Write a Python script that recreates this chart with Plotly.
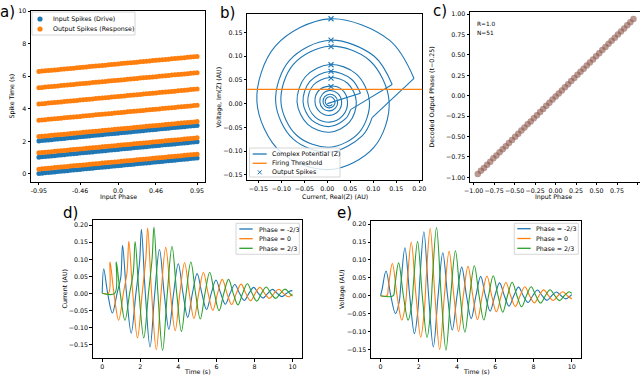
import plotly.graph_objects as go

# ---------------- panel a / c : phase sweep ----------------
PHASES = [-0.95, -0.912, -0.874, -0.836, -0.798, -0.76, -0.722, -0.684, -0.646, -0.608,
          -0.57, -0.532, -0.494, -0.456, -0.418, -0.38, -0.342, -0.304, -0.266, -0.228,
          -0.19, -0.152, -0.114, -0.076, -0.038, 0.0, 0.038, 0.076, 0.114, 0.152,
          0.19, 0.228, 0.266, 0.304, 0.342, 0.38, 0.418, 0.456, 0.494, 0.532,
          0.57, 0.608, 0.646, 0.684, 0.722, 0.76, 0.798, 0.836, 0.874, 0.912, 0.95]
# spike time inside each cycle (s)
INPUT_OFFSET = [0.025, 0.043, 0.062, 0.082, 0.100, 0.119, 0.139, 0.157, 0.176, 0.197,
                0.216, 0.233, 0.252, 0.274, 0.292, 0.309, 0.328, 0.349, 0.368, 0.385,
                0.404, 0.425, 0.444, 0.461, 0.480, 0.501, 0.520, 0.537, 0.556, 0.577,
                0.596, 0.613, 0.632, 0.653, 0.672, 0.689, 0.708, 0.729, 0.748, 0.765,
                0.784, 0.805, 0.824, 0.841, 0.860, 0.881, 0.900, 0.917, 0.936, 0.957, 0.975]
OUTPUT_OFFSET = [0.290, 0.309, 0.326, 0.346, 0.363, 0.383, 0.400, 0.418, 0.438, 0.455,
                 0.475, 0.491, 0.512, 0.528, 0.549, 0.565, 0.585, 0.602, 0.622, 0.639,
                 0.659, 0.675, 0.696, 0.712, 0.733, 0.749, 0.769, 0.786, 0.806, 0.823,
                 0.843, 0.859, 0.880, 0.896, 0.917, 0.933, 0.953, 0.970, 0.990, 1.007,
                 1.027, 1.043, 1.064, 1.080, 1.101, 1.117, 1.137, 1.154, 1.174, 1.191, 1.210]
INPUT_CYCLES = [0, 1, 2]
OUTPUT_CYCLES = [0, 1, 2, 3, 4, 5, 6]
DECODED = [-0.960, -0.921, -0.886, -0.845, -0.809, -0.768, -0.733, -0.694, -0.655, -0.619,
           -0.579, -0.543, -0.503, -0.467, -0.427, -0.391, -0.351, -0.315, -0.275, -0.239,
           -0.199, -0.163, -0.123, -0.087, -0.047, -0.010, 0.028, 0.065, 0.104, 0.141,
           0.180, 0.217, 0.256, 0.293, 0.332, 0.369, 0.408, 0.445, 0.484, 0.521,
           0.560, 0.597, 0.636, 0.673, 0.712, 0.749, 0.788, 0.825, 0.864, 0.901, 0.940]
FIT_TEXT = ["R=1.0", "N=51"]
A_XTICKS = [-0.95, -0.456, 0.0, 0.456, 0.95]
A_XTICKTEXT = ["-0.95", "-0.46", "0.0", "0.46", "0.95"]
A_YTICKS = [0, 2, 4, 6, 8, 10]
C_TICKS = [-1.0, -0.75, -0.5, -0.25, 0.0, 0.25, 0.5, 0.75, 1.0]

# ---------------- panel b : complex potential trajectory ----------------
SPIRAL_X = [0.0, 0.072, 0.0525, 0.005, -0.038, -0.0528, -0.0339, 0.005, 0.0402, 0.0505,
            0.141, 0.1014, 0.005, -0.0822, -0.1123, -0.074, 0.005, 0.0764, 0.0974,
            0.1885,
            0.1349, 0.005, -0.1126, -0.1531, -0.1013, 0.005, 0.1012, 0.1344,
            0.092, 0.005, -0.0738, -0.1009, -0.0662, 0.005, 0.0694, 0.0917,
            0.0633, 0.005, -0.0477, -0.0659, -0.0427, 0.005, 0.0481, 0.063,
            0.044, 0.005, -0.0303, -0.0425, -0.027, 0.005, 0.0339, 0.0439,
            0.0312, 0.005, -0.0187, -0.0268, -0.0164, 0.005, 0.0244, 0.0311,
            0.0225, 0.005, -0.0108, -0.0163, -0.0094, 0.005, 0.018, 0.0225,
            0.0167, 0.005, -0.0056, -0.0093, -0.0046, 0.005, 0.0137, 0.0167,
            0.0128, 0.005, -0.0021, -0.0046, -0.0014, 0.005, 0.0108]
SPIRAL_Y = [0.0, 0.022, 0.0515, 0.0679, 0.047, 0.004, -0.0349, -0.0483, -0.0312, -0.0126,
            0.0405, 0.1004, 0.1337, 0.0912, 0.004, -0.075, -0.1022, -0.0674, -0.0296,
            0.0532,
            0.1339, 0.1788, 0.1216, 0.004, -0.1023, -0.139, -0.0922, 0.004,
            0.091, 0.1211, 0.0828, 0.004, -0.0672, -0.0918, -0.0604, 0.004,
            0.0623, 0.0824, 0.0567, 0.004, -0.0437, -0.0602, -0.0391, 0.004,
            0.043, 0.055, 0.0393, 0.004, -0.028, -0.039, -0.0249, 0.004,
            0.0302, 0.037, 0.0277, 0.004, -0.0174, -0.0248, -0.0154, 0.004,
            0.0215, 0.0276, 0.0198, 0.004, -0.0104, -0.0153, -0.009, 0.004,
            0.0157, 0.0198, 0.0146, 0.004, -0.0056, -0.0089, -0.0047, 0.004,
            0.0118, 0.0146, 0.0111, 0.004, -0.0024, -0.0047, -0.0018]
SPIRAL_BREAKS = [1, 9, 10, 18, 19]   # input kicks (straight pieces)
SPIKE_X = [0.008, 0.008, 0.008, 0.008, 0.008, 0.008, 0.008]
SPIKE_Y = [0.068, 0.134, 0.179, 0.120, 0.082, 0.054, 0.036]
THRESHOLD = 0.03
B_XTICKS = [-0.15, -0.10, -0.05, 0.0, 0.05, 0.10, 0.15, 0.20]
B_YTICKS = [-0.15, -0.10, -0.05, 0.0, 0.05, 0.10, 0.15]

# ---------------- panels d / e : current and voltage traces ----------------
PHASE_LABELS = ["Phase = -2/3", "Phase = 0", "Phase = 2/3"]
BLUE_T = [0.0, 0.08, 0.286, 0.534, 0.781, 0.974, 1.07, 1.276, 1.524, 1.771,
          1.964, 2.06, 2.266, 2.514, 2.761, 3.009, 3.256, 3.504, 3.751, 3.999,
          4.246, 4.494, 4.741, 4.989, 5.236, 5.484, 5.731, 5.979, 6.226, 6.474,
          6.721, 6.969, 7.216, 7.464, 7.711, 7.959, 8.206, 8.454, 8.701, 8.949,
          9.196, 9.444, 9.691, 9.939, 10.0]
BLUE_I = [0.0, 0.072, 0.0, -0.058, 0.0, 0.046, 0.141, 0.0, -0.117, 0.0,
          0.092, 0.188, 0.0, -0.158, 0.0, 0.129, 0.0, -0.106, 0.0, 0.087,
          0.0, -0.071, 0.0, 0.058, 0.0, -0.0475, 0.0, 0.039, 0.0, -0.032,
          0.0, 0.026, 0.0, -0.021, 0.0, 0.0175, 0.0, -0.014, 0.0, 0.0117,
          0.0, -0.0096, 0.0, 0.0078, 0.0071]
BLUE_V = [0.0, 0.018, 0.069, 0.0, -0.050, -0.017, 0.037, 0.134, 0.0, -0.106,
          -0.034, 0.049, 0.179, 0.0, -0.143, 0.0, 0.120, 0.0, -0.096, 0.0,
          0.080, 0.0, -0.064, 0.0, 0.054, 0.0, -0.043, 0.0, 0.036, 0.0,
          -0.029, 0.0, 0.024, 0.0, -0.019, 0.0, 0.016, 0.0, -0.013, 0.0,
          0.0106, 0.0, -0.0087, 0.0, 0.003]
ORANGE_T = [0.0, 0.33, 0.41, 0.616, 0.864, 1.111, 1.304, 1.40, 1.606, 1.854,
            2.101, 2.294, 2.39, 2.596, 2.844, 3.091, 3.339, 3.586, 3.834, 4.081,
            4.329, 4.576, 4.824, 5.071, 5.319, 5.566, 5.814, 6.061, 6.309, 6.556,
            6.804, 7.051, 7.299, 7.546, 7.794, 8.041, 8.289, 8.536, 8.784, 9.031,
            9.279, 9.526, 9.774, 10.0]
ORANGE_I = [0.0, 0.0, 0.092, 0.0, -0.079, 0.0, 0.062, 0.153, 0.0, -0.131,
            0.0, 0.103, 0.192, 0.0, -0.166, 0.0, 0.135, 0.0, -0.110, 0.0,
            0.090, 0.0, -0.074, 0.0, 0.061, 0.0, -0.050, 0.0, 0.041, 0.0,
            -0.033, 0.0, 0.027, 0.0, -0.022, 0.0, 0.018, 0.0, -0.015, 0.0,
            0.012, 0.0, -0.010, -0.0013]
ORANGE_V = [0.0, 0.0, 0.025, 0.090, 0.0, -0.068, -0.023, 0.041, 0.150, 0.0,
            -0.116, -0.038, 0.051, 0.188, 0.0, -0.150, 0.0, 0.124, 0.0, -0.100,
            0.0, 0.082, 0.0, -0.067, 0.0, 0.055, 0.0, -0.045, 0.0, 0.037,
            0.0, -0.030, 0.0, 0.025, 0.0, -0.020, 0.0, 0.0165, 0.0, -0.0135,
            0.0, 0.011, 0.0, -0.009]
GREEN_T = [0.0, 0.66, 0.74, 0.946, 1.194, 1.441, 1.634, 1.73, 1.936, 2.184,
           2.431, 2.624, 2.72, 2.926, 3.174, 3.421, 3.669, 3.916, 4.164, 4.411,
           4.659, 4.906, 5.154, 5.401, 5.649, 5.896, 6.144, 6.391, 6.639, 6.886,
           7.134, 7.381, 7.629, 7.876, 8.124, 8.371, 8.619, 8.866, 9.114, 9.361,
           9.609, 9.856, 10.0]
GREEN_I = [0.0, 0.0, 0.092, 0.0, -0.079, 0.0, 0.062, 0.152, 0.0, -0.131,
           0.0, 0.103, 0.195, 0.0, -0.168, 0.0, 0.138, 0.0, -0.112, 0.0,
           0.092, 0.0, -0.0755, 0.0, 0.062, 0.0, -0.051, 0.0, 0.041, 0.0,
           -0.034, 0.0, 0.028, 0.0, -0.023, 0.0, 0.0186, 0.0, -0.015, 0.0,
           0.0124, 0.0, -0.0083]
GREEN_V = [0.0, 0.0, 0.025, 0.092, 0.0, -0.068, -0.023, 0.041, 0.152, 0.0,
           -0.117, -0.038, 0.052, 0.191, 0.0, -0.152, 0.0, 0.126, 0.0, -0.102,
           0.0, 0.084, 0.0, -0.068, 0.0, 0.056, 0.0, -0.046, 0.0, 0.0375,
           0.0, -0.031, 0.0, 0.025, 0.0, -0.0205, 0.0, 0.0168, 0.0, -0.0137,
           0.0, 0.0112, 0.0065]
T_TICKS = [0, 2, 4, 6, 8, 10]
W_YTICKS = [-0.15, -0.10, -0.05, 0.0, 0.05, 0.10, 0.15, 0.20]

W, H = 640, 377
FONT = "DejaVu Sans"
SMALL = 6.3
BLUE, ORANGE, GREEN, BROWN = "#1f77b4", "#ff7f0e", "#2ca02c", "#8c564b"
WAVE_COLORS = [BLUE, ORANGE, GREEN]


def fx(p):
    return p / W


def fy(p):
    return 1 - p / H


def axis(p0, p1, rng, vertical=False, **kw):
    dom = [fy(p1), fy(p0)] if vertical else [fx(p0), fx(p1)]
    return dict(domain=dom, range=rng, showline=True, linecolor="black", linewidth=0.8,
                mirror=True, ticks="outside", ticklen=2.5, tickwidth=0.7, tickcolor="black",
                showgrid=False, zeroline=False, automargin=False, tickangle=0,
                tickfont=dict(size=SMALL, family=FONT, color="black"), **kw)


fig = go.Figure()

# a) spike raster
for cyc, offs, col, name in ((INPUT_CYCLES, INPUT_OFFSET, BLUE, "in"),
                             (OUTPUT_CYCLES, OUTPUT_OFFSET, ORANGE, "out")):
    xs, ys = [], []
    for k in cyc:
        xs += PHASES
        ys += [k + o for o in offs]
    fig.add_trace(go.Scatter(x=xs, y=ys, mode="markers", xaxis="x", yaxis="y",
                             marker=dict(color=col, size=5, line=dict(width=0)),
                             showlegend=False, name=name))

# b) spiral, drawn piece by piece so the input kicks stay straight
bounds = [0] + SPIRAL_BREAKS + [len(SPIRAL_X) - 1]
for a, b in zip(bounds[:-1], bounds[1:]):
    fig.add_trace(go.Scatter(x=SPIRAL_X[a:b + 1], y=SPIRAL_Y[a:b + 1], mode="lines",
                             xaxis="x2", yaxis="y2", showlegend=False,
                             line=dict(color=BLUE, width=1.1, shape="spline", smoothing=1.0)))
fig.add_shape(type="line", xref="x2 domain", yref="y2", x0=0, x1=1, y0=THRESHOLD, y1=THRESHOLD,
              line=dict(color=ORANGE, width=1.2), layer="above")
fig.add_trace(go.Scatter(x=SPIKE_X, y=SPIKE_Y, mode="markers", xaxis="x2", yaxis="y2",
                         showlegend=False,
                         marker=dict(symbol="x-thin", size=5, color=BLUE,
                                     line=dict(color=BLUE, width=1.1))))

# c) decoded phase
fig.add_trace(go.Scatter(x=PHASES, y=DECODED, mode="markers", xaxis="x3", yaxis="y3",
                         showlegend=False,
                         marker=dict(color=BROWN, opacity=0.6, size=6.5, line=dict(width=0))))

# d) / e) waves
for ts, ii, vv, col in zip((BLUE_T, ORANGE_T, GREEN_T), (BLUE_I, ORANGE_I, GREEN_I),
                           (BLUE_V, ORANGE_V, GREEN_V), WAVE_COLORS):
    fig.add_trace(go.Scatter(x=ts, y=ii, mode="lines", xaxis="x4", yaxis="y4", showlegend=False,
                             line=dict(color=col, width=1.1, shape="spline", smoothing=1.0)))
    fig.add_trace(go.Scatter(x=ts, y=vv, mode="lines", xaxis="x5", yaxis="y5", showlegend=False,
                             line=dict(color=col, width=1.1, shape="spline", smoothing=1.0)))

shapes, annots = [], []


def text(label, x, y, size=SMALL, angle=0, anchor="center"):
    annots.append(dict(text=label, xref="paper", yref="paper", x=fx(x), y=fy(y),
                       xanchor=anchor, yanchor="middle", showarrow=False, textangle=angle,
                       font=dict(size=size, family=FONT, color="black")))


def legend(box, sym, text_x, rows, items):
    x0, y0, x1, y1 = box
    shapes.append(dict(type="rect", xref="paper", yref="paper", x0=fx(x0), x1=fx(x1),
                       y0=fy(y1), y1=fy(y0), fillcolor="rgba(255,255,255,0.8)",
                       line=dict(color="#cccccc", width=0.8), layer="above"))
    for (kind, col, label), yy in zip(items, rows):
        cx = (sym[0] + sym[1]) / 2
        if kind == "line":
            shapes.append(dict(type="line", xref="paper", yref="paper", x0=fx(sym[0]),
                               x1=fx(sym[1]), y0=fy(yy), y1=fy(yy),
                               line=dict(color=col, width=1.3), layer="above"))
        elif kind == "dot":
            shapes.append(dict(type="circle", xref="paper", yref="paper", x0=fx(cx - 2.6),
                               x1=fx(cx + 2.6), y0=fy(yy + 2.6), y1=fy(yy - 2.6),
                               fillcolor=col, line=dict(width=0), layer="above"))
        else:
            for d in (1, -1):
                shapes.append(dict(type="line", xref="paper", yref="paper", x0=fx(cx - 2),
                                   x1=fx(cx + 2), y0=fy(yy - 2 * d), y1=fy(yy + 2 * d),
                                   line=dict(color=col, width=1), layer="above"))
        text(label, text_x, yy, anchor="left")


legend((32, 12, 135, 35), (37, 43), 51, [19, 29],
       [("dot", BLUE, "Input Spikes (Drive)"), ("dot", ORANGE, "Output Spikes (Response)")])
legend((249.5, 148, 340, 177), (252.7, 266.7), 270, [154, 163.3, 172.3],
       [("line", BLUE, "Complex Potential (Z)"), ("line", ORANGE, "Firing Threshold"),
        ("x", BLUE, "Output Spikes")])
legend((236, 223.3, 299.3, 254.3), (239.3, 252.7), 256.7, [229, 238.7, 248.3],
       [("line", c, l) for c, l in zip(WAVE_COLORS, PHASE_LABELS)])
legend((514.3, 223.3, 578.3, 254.3), (517.3, 530.7), 534.3, [228.7, 238.5, 248.3],
       [("line", c, l) for c, l in zip(WAVE_COLORS, PHASE_LABELS)])

for txt, yy in zip(FIT_TEXT, (24, 33)):
    text(txt, 475, yy, size=5.8, anchor="left")

# axis titles
text("Input Phase", 118, 196.5)
text("Spike Time (s)", 11.5, 96, angle=-90)
text("Current, Real(Z) (AU)", 335, 196.5)
text("Voltage, Im(Z) (AU)", 218.5, 97, angle=-90)
text("Input Phase", 553, 197)
text("Decoded Output Phase (t\u22120.25)", 431.5, 97, angle=-90)
text("Time (s)", 197, 371)
text("Current (AU)", 63.5, 289, angle=-90)
text("Time (s)", 476, 371)
text("Voltage (AU)", 342, 290, angle=-90)

for lab, x, y in (("a)", 7, 12), ("b)", 227, 13), ("c)", 440, 11), ("d)", 70, 213), ("e)", 344, 213)):
    text(lab, x, y, size=15)

fig.update_layout(
    width=W, height=H, margin=dict(l=0, r=0, t=0, b=0),
    paper_bgcolor="white", plot_bgcolor="white", showlegend=False,
    font=dict(family=FONT, color="black"),
    xaxis=axis(31, 205, [-1.045, 1.045], anchor="y", tickvals=A_XTICKS, ticktext=A_XTICKTEXT),
    yaxis=axis(11, 182, [-0.5, 10], vertical=True, anchor="x", tickvals=A_YTICKS),
    xaxis2=axis(247.3, 422.3, [-0.174, 0.2065], anchor="y2", tickvals=B_XTICKS, tickformat=".2f"),
    yaxis2=axis(14, 180, [-0.161, 0.189], vertical=True, anchor="x2",
                tickvals=B_YTICKS, tickformat=".2f"),
    xaxis3=axis(470, 640, [-1.045, 1.03], anchor="y3", tickvals=C_TICKS, tickformat=".2f"),
    yaxis3=axis(11.7, 181.7, [-1.054, 1.03], vertical=True, anchor="x3",
                tickvals=C_TICKS, tickformat=".2f"),
    xaxis4=axis(92.7, 302, [-0.5, 10.5], anchor="y4", tickvals=T_TICKS),
    yaxis4=axis(220, 358.3, [-0.191, 0.2155], vertical=True, anchor="x4",
                tickvals=W_YTICKS, tickformat=".2f"),
    xaxis5=axis(371, 581.3, [-0.5, 10.5], anchor="y5", tickvals=T_TICKS),
    yaxis5=axis(221, 358.3, [-0.175, 0.209], vertical=True, anchor="x5",
                tickvals=W_YTICKS, tickformat=".2f"),
    shapes=fig.layout.shapes + tuple(shapes),
    annotations=annots,
)

# the page's default body margin would push the 640x377 figure off-screen
fig.write_html("out.html", config={"displayModeBar": False},
               post_script="document.body.style.margin='0px';")
